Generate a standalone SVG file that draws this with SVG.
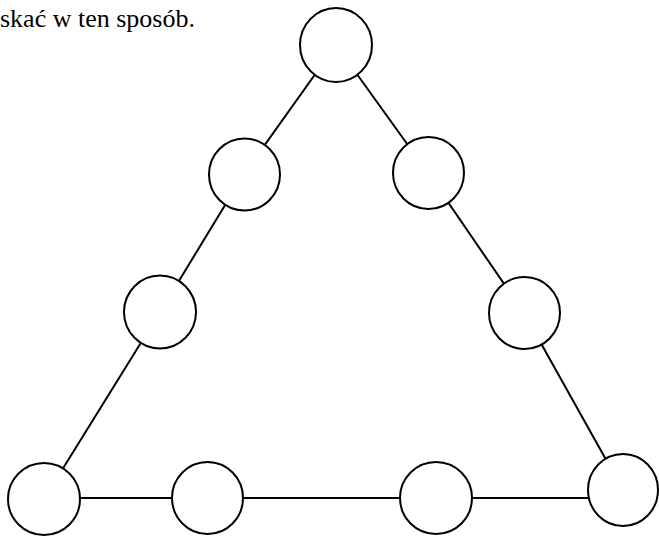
<svg xmlns="http://www.w3.org/2000/svg" width="659" height="536" viewBox="0 0 659 536">
<style>
.n{fill:#fff;stroke:#000;stroke-width:2}
.c line{stroke:#000;stroke-width:2}
.t{font-family:"Liberation Serif","Times New Roman",serif;font-size:26px;fill:#000}
</style>
<rect width="659" height="536" fill="#fff"/>
<text class="t" x="0" y="27">skać w ten sposób.</text>
<g id="connectors" class="c">
<line x1="336" y1="45" x2="244" y2="174"/>
<line x1="244" y1="174" x2="160" y2="312"/>
<line x1="160" y1="312" x2="44" y2="499"/>
<line x1="336" y1="45" x2="428" y2="173"/>
<line x1="428" y1="173" x2="524" y2="313"/>
<line x1="524" y1="313" x2="623" y2="490"/>
<line x1="44" y1="498" x2="207" y2="498"/>
<line x1="207" y1="498" x2="436" y2="498"/>
<line x1="436" y1="498" x2="623" y2="498"/>
</g>
<g id="n-top"><ellipse class="n" cx="336" cy="45" rx="36" ry="37"/></g>
<g id="n-l1"><ellipse class="n" cx="244.5" cy="174.5" rx="35.5" ry="36"/></g>
<g id="n-l2"><ellipse class="n" cx="160" cy="312" rx="36" ry="36.5"/></g>
<g id="n-r1"><ellipse class="n" cx="428.5" cy="173" rx="35.5" ry="36"/></g>
<g id="n-r2"><ellipse class="n" cx="524.5" cy="313" rx="35.5" ry="36"/></g>
<g id="n-b1"><ellipse class="n" cx="44" cy="499" rx="36" ry="36"/></g>
<g id="n-b2"><ellipse class="n" cx="207.5" cy="498" rx="35.5" ry="36"/></g>
<g id="n-b3"><ellipse class="n" cx="436" cy="498" rx="36" ry="36"/></g>
<g id="n-b4"><ellipse class="n" cx="623" cy="490" rx="35" ry="36"/></g>
</svg>
